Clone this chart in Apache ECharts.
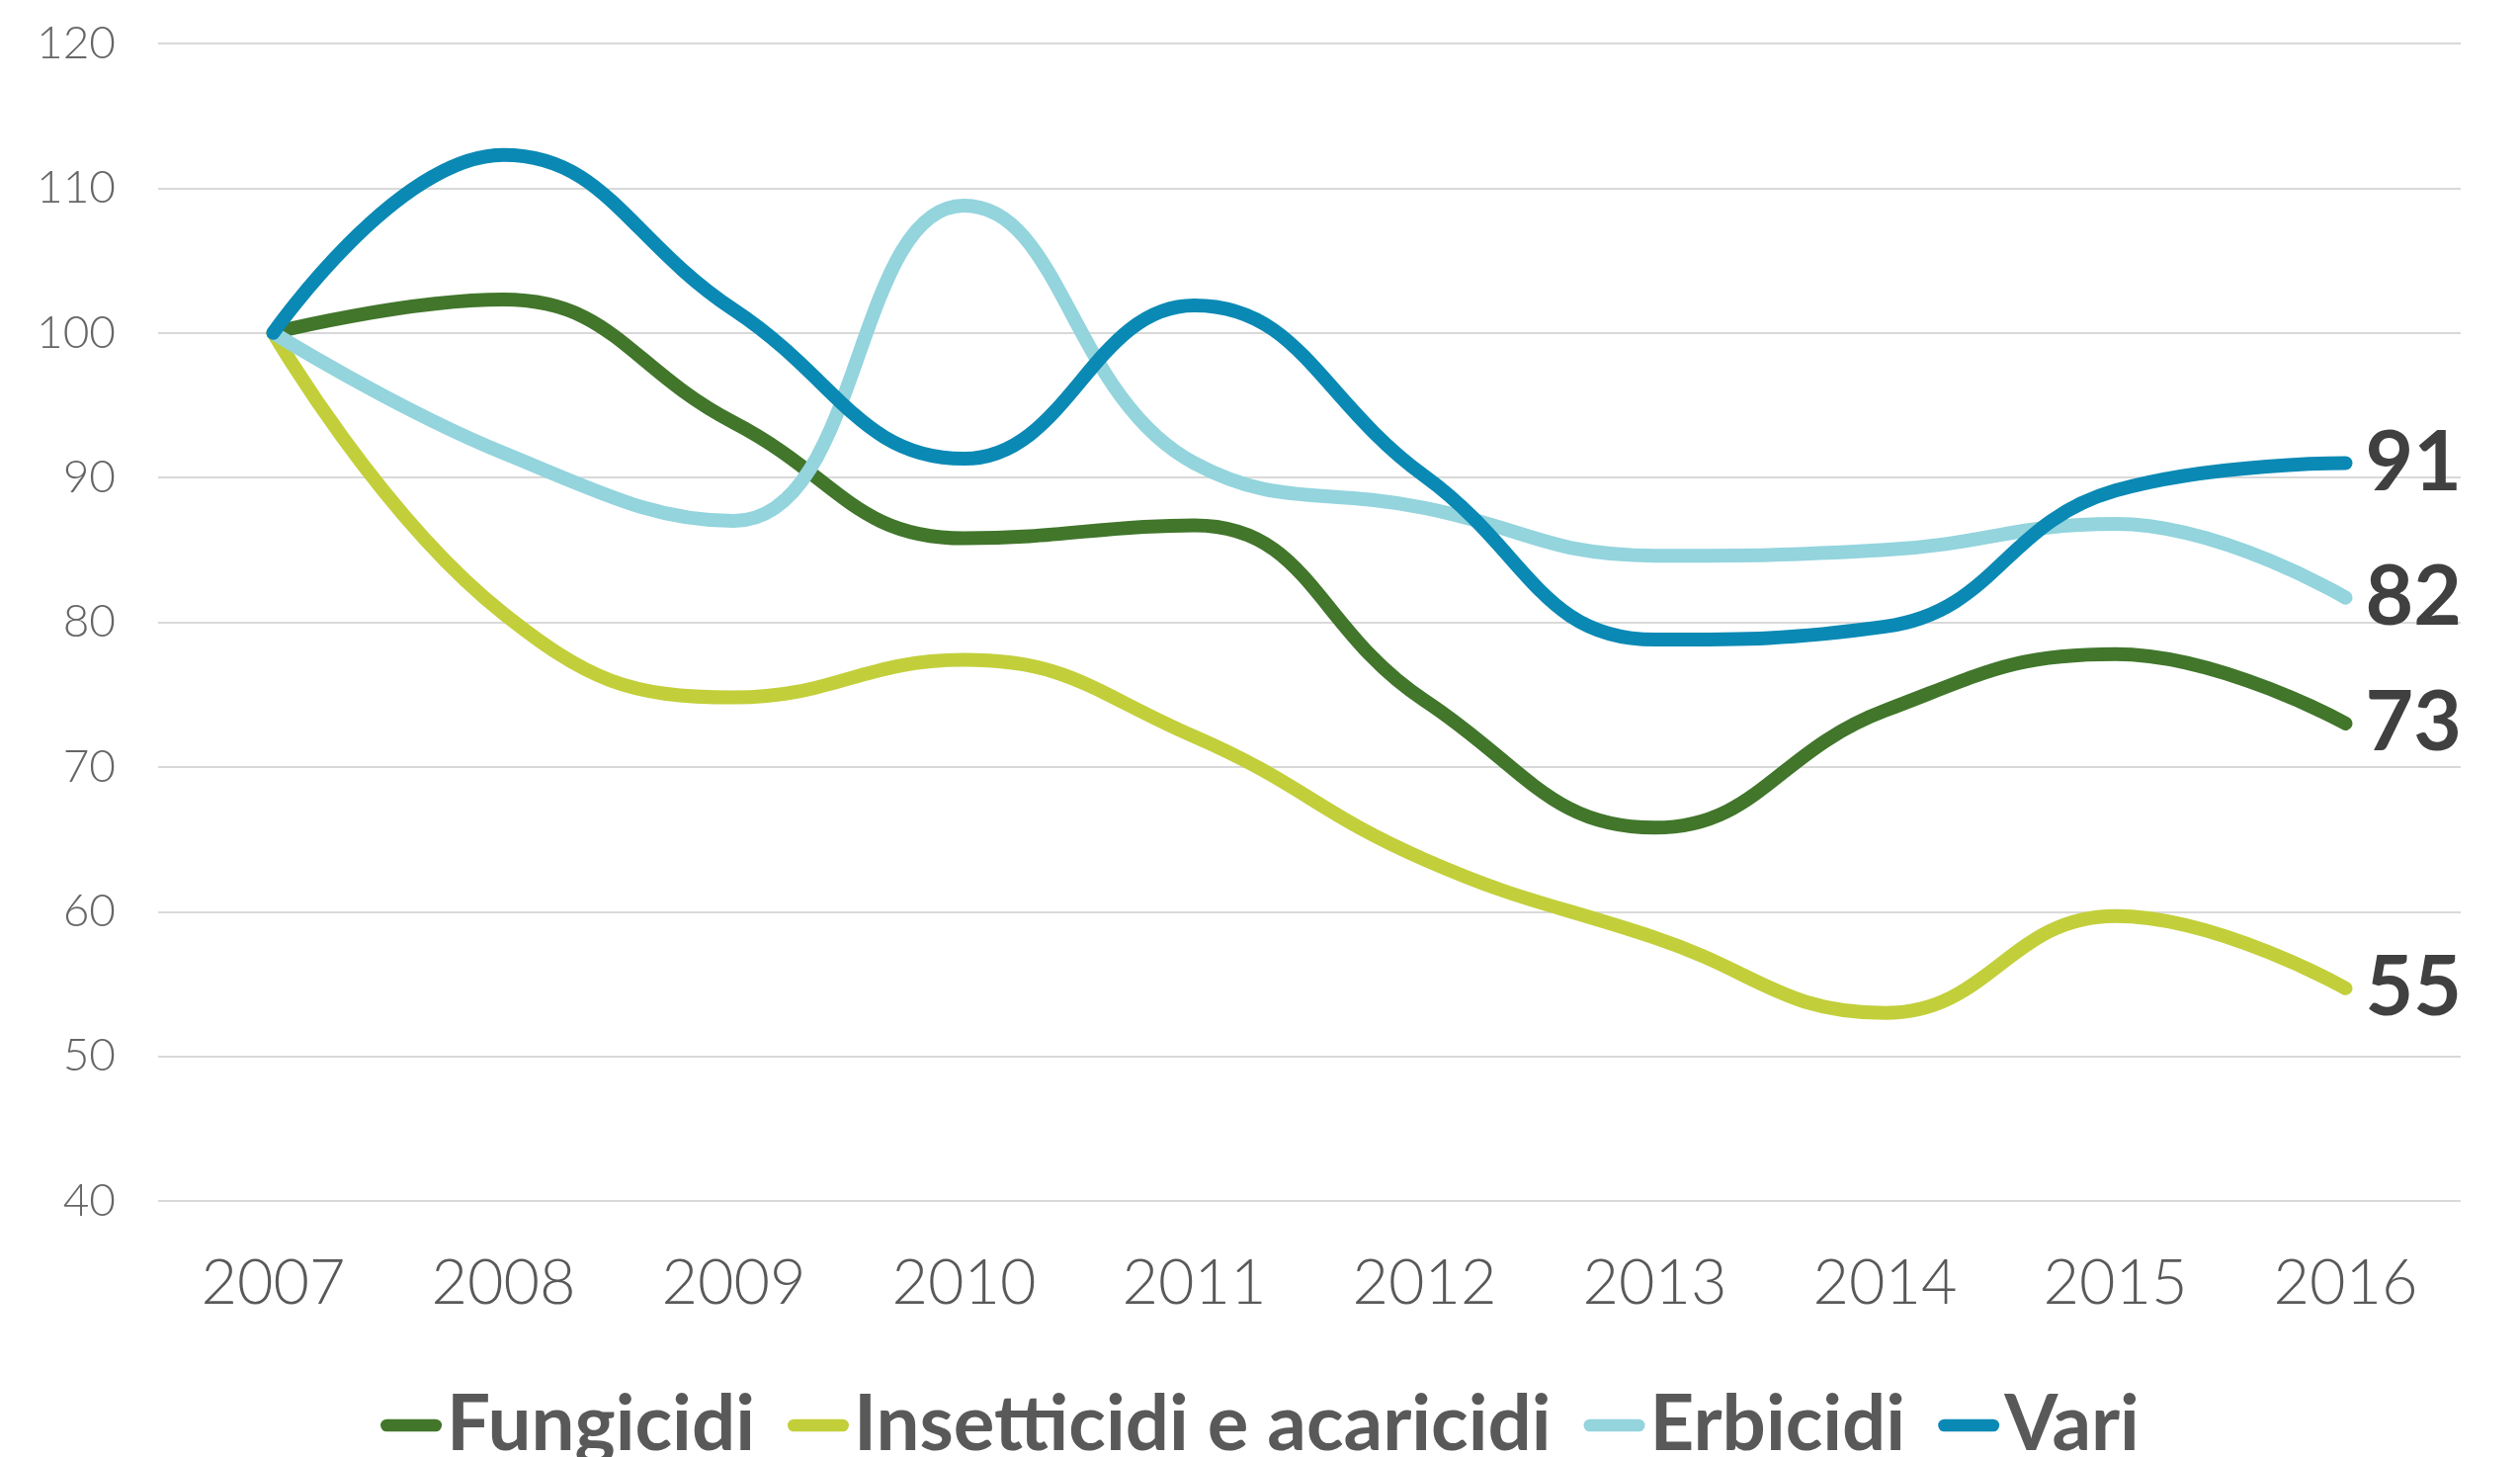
<!DOCTYPE html>
<html>
<head>
<meta charset="utf-8">
<script src="https://cdn.jsdelivr.net/npm/echarts@6/dist/echarts.min.js"></script>
<style>
  html, body { margin: 0; padding: 0; background: #fff; }
  #main { width: 2550px; height: 1474px; }
</style>
</head>
<body>
<div id="main"></div>
<script>
// dati (indice 2007 = 100)
var anni = ['2007', '2008', '2009', '2010', '2011', '2012', '2013', '2014', '2015', '2016'];
var fungicidi = [100, 102.3, 93.8, 85.8, 86.7, 74.6, 65.8, 73.9, 77.8, 73];
var insetticidi = [100, 80.6, 74.8, 77.4, 72.1, 63.6, 58.2, 53, 59.7, 54.7];
var erbicidi = [100, 91.7, 87, 108.8, 91, 87.9, 84.6, 85, 86.8, 81.7];
var vari = [100, 112.3, 101.6, 91.3, 101.9, 90.1, 78.8, 79.7, 89.1, 91];

var colori = ['#41762B', '#C2CF3A', '#93D4DD', '#0A89B4'];
var pill = 'path://M6.5,0 L57.5,0 A6.5,6.5 0 0 1 57.5,13 L6.5,13 A6.5,6.5 0 0 1 6.5,0 Z';

function serie(nome, dati) {
    return {
        name: nome,
        type: 'line',
        data: dati,
        smooth: 0.45,
        symbol: 'none',
        lineStyle: { width: 14, cap: 'round', join: 'round' },
        endLabel: {
            show: true,
            distance: 20,
            formatter: function (p) { return Math.round(p.value); },
            fontFamily: 'Lato',
            fontWeight: 'bold',
            fontSize: 84,
            color: '#404040'
        }
    };
}

var myChart = echarts.init(document.getElementById('main'));
myChart.setOption({
    animation: false,
    color: colori,
    grid: { left: 160, right: 60, top: 44, bottom: 259 },
    legend: {
        bottom: -12,
        left: 'center',
        itemWidth: 62,
        itemHeight: 14,
        itemGap: 33,
        icon: pill,
        textStyle: { fontFamily: 'Lato', fontWeight: 'bold', fontSize: 78, color: '#595959' },
        data: ['Fungicidi', 'Insetticidi e acaricidi', 'Erbicidi', 'Vari']
    },
    xAxis: {
        type: 'category',
        data: anni,
        axisLine: { show: false },
        axisTick: { show: false },
        axisLabel: { margin: 52, fontFamily: 'Lato', fontWeight: 300, fontSize: 63, color: '#595959' }
    },
    yAxis: {
        type: 'value',
        min: 40,
        max: 120,
        interval: 10,
        axisLine: { show: false },
        axisTick: { show: false },
        axisLabel: { margin: 43, fontFamily: 'Lato', fontWeight: 300, fontSize: 46, color: '#666666' },
        splitLine: { lineStyle: { color: '#D9D9D9', width: 2 } }
    },
    series: [
        serie('Fungicidi', fungicidi),
        serie('Insetticidi e acaricidi', insetticidi),
        serie('Erbicidi', erbicidi),
        serie('Vari', vari)
    ]
});
</script>
</body>
</html>
